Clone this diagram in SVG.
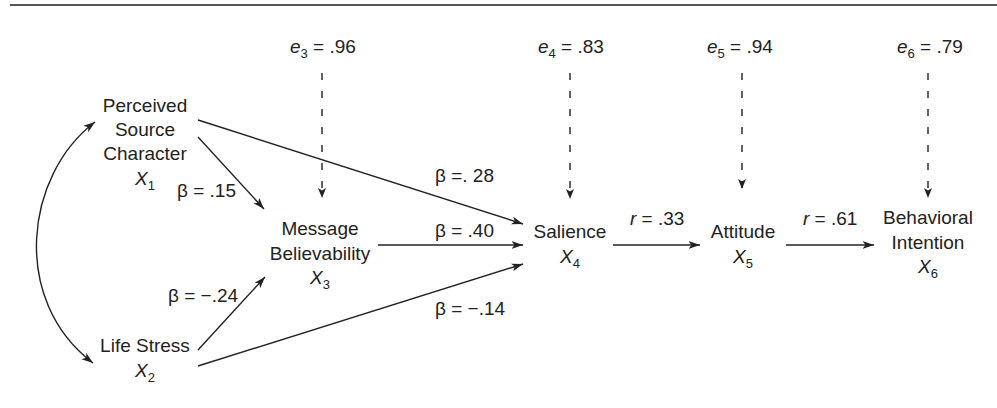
<svg xmlns="http://www.w3.org/2000/svg" width="997" height="408" viewBox="0 0 997 408">
<style>
text{font-family:"Liberation Sans",Arial,sans-serif;font-size:19px;fill:#222}
.c{text-anchor:middle}
.i{font-style:italic}
.s{font-size:13px}
.e{stroke:#222;stroke-width:1.4;fill:none}
.d{stroke:#222;stroke-width:1.4;fill:none;stroke-dasharray:7 11}
</style>
<defs>
<marker id="ah" markerUnits="userSpaceOnUse" markerWidth="14" markerHeight="10" refX="11.5" refY="4" orient="auto-start-reverse">
<path d="M0,0 L11.5,4 L0,8 L3,4 z" fill="#222"/>
</marker>
<marker id="ad" markerUnits="userSpaceOnUse" markerWidth="12" markerHeight="10" refX="10" refY="4" orient="auto">
<path d="M0,0 L10,4 L0,8 L2.5,4 z" fill="#222"/>
</marker>
</defs>
<rect width="997" height="408" fill="#fff"/>
<line x1="10" y1="5" x2="997" y2="5" stroke="#555" stroke-width="2"/>

<g id="connectors">
<path class="e" d="M95,122 C25,175 10,300 93,363" marker-start="url(#ah)" marker-end="url(#ah)"/>
<line class="e" x1="198" y1="137" x2="264" y2="209" marker-end="url(#ah)"/>
<line class="e" x1="198" y1="120" x2="523" y2="224" marker-end="url(#ah)"/>
<line class="e" x1="378" y1="245" x2="523" y2="245" marker-end="url(#ah)"/>
<line class="e" x1="198" y1="350" x2="265" y2="277" marker-end="url(#ah)"/>
<line class="e" x1="198" y1="366" x2="523" y2="264" marker-end="url(#ah)"/>
<line class="e" x1="613" y1="245" x2="700" y2="245" marker-end="url(#ah)"/>
<line class="e" x1="786" y1="245" x2="874" y2="245" marker-end="url(#ah)"/>
<line class="d" x1="322" y1="73" x2="322" y2="198" marker-end="url(#ad)"/>
<line class="d" x1="570" y1="73" x2="570" y2="199" marker-end="url(#ad)"/>
<line class="d" x1="742" y1="73" x2="742" y2="189" marker-end="url(#ad)"/>
<line class="d" x1="928" y1="73" x2="928" y2="198" marker-end="url(#ad)"/>
<text x="435" y="182">β =. 28</text>
<text x="177" y="197">β = .15</text>
<text x="435" y="237">β = .40</text>
<text x="168" y="302">β = −.24</text>
<text x="435" y="315">β = −.14</text>
<text x="630" y="225"><tspan class="i">r</tspan> = .33</text>
<text x="803" y="225"><tspan class="i">r</tspan> = .61</text>
</g>

<g id="e3"><text x="290" y="53"><tspan class="i">e</tspan><tspan class="s" dy="5">3</tspan><tspan dy="-5"> = .96</tspan></text></g>
<g id="e4"><text x="538" y="53"><tspan class="i">e</tspan><tspan class="s" dy="5">4</tspan><tspan dy="-5"> = .83</tspan></text></g>
<g id="e5"><text x="707" y="53"><tspan class="i">e</tspan><tspan class="s" dy="5">5</tspan><tspan dy="-5"> = .94</tspan></text></g>
<g id="e6"><text x="897" y="53"><tspan class="i">e</tspan><tspan class="s" dy="5">6</tspan><tspan dy="-5"> = .79</tspan></text></g>

<g id="x1">
<text class="c" x="145" y="112">Perceived</text>
<text class="c" x="145" y="136">Source</text>
<text class="c" x="145" y="160">Character</text>
<text class="c" x="145" y="185"><tspan class="i">X</tspan><tspan class="s" dy="5">1</tspan></text>
</g>
<g id="x2">
<text class="c" x="145" y="352">Life Stress</text>
<text class="c" x="145" y="377"><tspan class="i">X</tspan><tspan class="s" dy="5">2</tspan></text>
</g>
<g id="x3">
<text class="c" x="320" y="235">Message</text>
<text class="c" x="320" y="260">Believability</text>
<text class="c" x="320" y="284"><tspan class="i">X</tspan><tspan class="s" dy="5">3</tspan></text>
</g>
<g id="x4">
<text class="c" x="570" y="238">Salience</text>
<text class="c" x="570" y="263"><tspan class="i">X</tspan><tspan class="s" dy="5">4</tspan></text>
</g>
<g id="x5">
<text class="c" x="743" y="238">Attitude</text>
<text class="c" x="743" y="263"><tspan class="i">X</tspan><tspan class="s" dy="5">5</tspan></text>
</g>
<g id="x6">
<text class="c" x="928" y="224">Behavioral</text>
<text class="c" x="928" y="249">Intention</text>
<text class="c" x="928" y="273"><tspan class="i">X</tspan><tspan class="s" dy="5">6</tspan></text>
</g>
</svg>
